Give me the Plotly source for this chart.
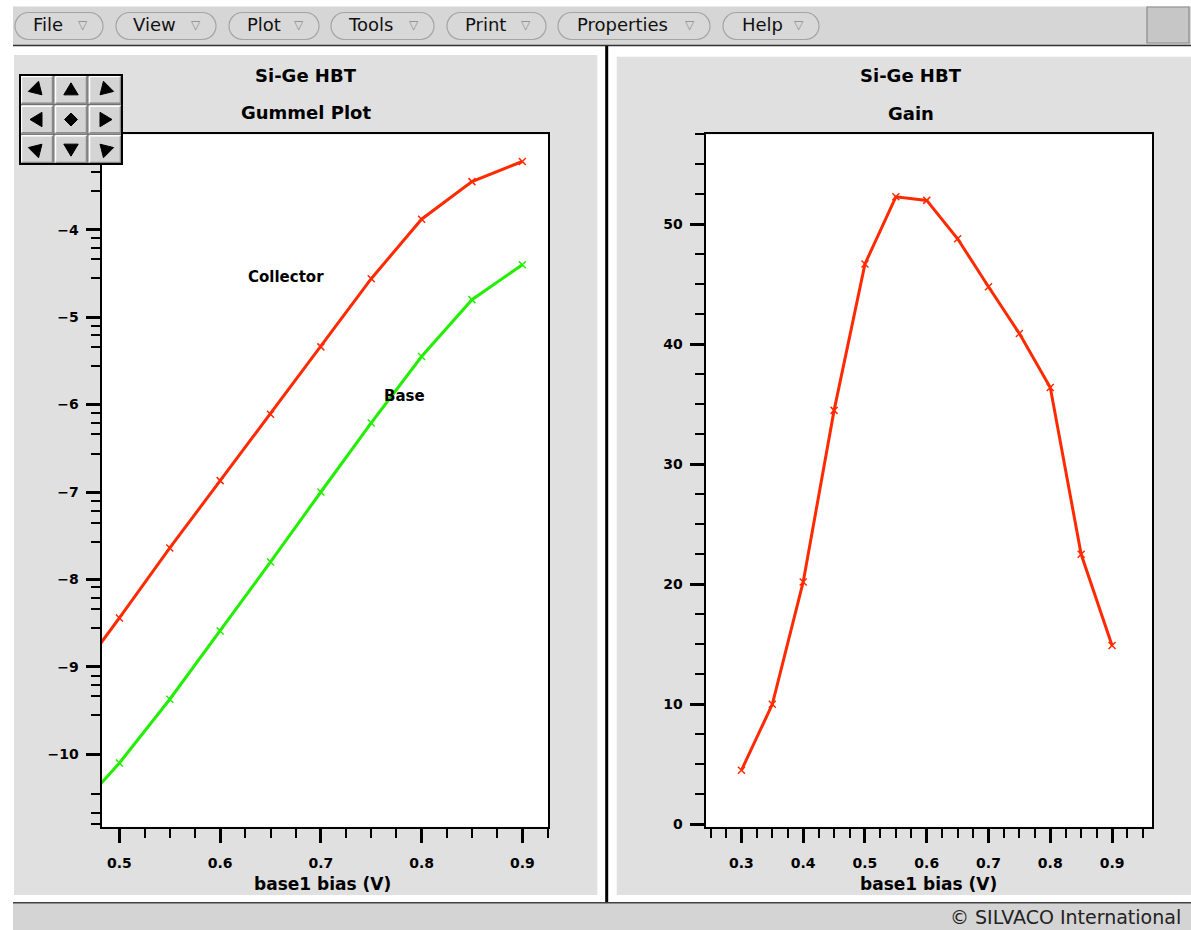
import plotly.graph_objects as go

W, H = 1191, 930

# ---------------- data ----------------
bias_gummel = [0.45, 0.50, 0.55, 0.60, 0.65, 0.70, 0.75, 0.80, 0.85, 0.90]
log_collector = [-9.22, -8.44, -7.64, -6.87, -6.11, -5.34, -4.56, -3.88, -3.45, -3.22]
log_base = [-10.74, -10.10, -9.37, -8.59, -7.80, -7.00, -6.21, -5.45, -4.80, -4.40]

bias_gain = [0.30, 0.35, 0.40, 0.45, 0.50, 0.55, 0.60, 0.65, 0.70, 0.75, 0.80, 0.85, 0.90]
gain = [4.5, 10.0, 20.2, 34.5, 46.7, 52.3, 52.0, 48.8, 44.8, 40.9, 36.4, 22.5, 14.9]

gummel_yticks = [-10, -9, -8, -7, -6, -5, -4]
gummel_yminor = [-3.1, -3.2, -3.34, -3.56,
                 -4.09, -4.21, -4.34, -4.55,
                 -5.1, -5.2, -5.34, -5.56,
                 -6.1, -6.21, -6.34, -6.56,
                 -7.1, -7.22, -7.35, -7.57,
                 -8.09, -8.21, -8.34, -8.56,
                 -9.1, -9.21, -9.33, -9.55,
                 -10.45, -10.67, -10.8]
gummel_xticks = [0.5, 0.6, 0.7, 0.8, 0.9]
gain_xticks = [0.3, 0.4, 0.5, 0.6, 0.7, 0.8, 0.9]
gain_yticks = [0, 10, 20, 30, 40, 50]

menu_items = ["File", "View", "Plot", "Tools", "Print", "Properties", "Help"]

RED = "#ff2a00"
GREEN = "#22ee00"


def X(p):
    return p / W


def Y(p):
    return 1 - p / H


shapes = []
annotations = []


def rect(x0, y0, x1, y1, fill, line_color=None, lw=0, layer="below"):
    shapes.append(dict(type="rect", xref="paper", yref="paper",
                       x0=X(x0), x1=X(x1), y0=Y(y1), y1=Y(y0),
                       fillcolor=fill, layer=layer,
                       line=dict(color=line_color or fill, width=lw)))


def hline(x0, x1, y, color, lw, layer="below"):
    shapes.append(dict(type="line", xref="paper", yref="paper",
                       x0=X(x0), x1=X(x1), y0=Y(y), y1=Y(y),
                       line=dict(color=color, width=lw), layer=layer))


def vline(x, y0, y1, color, lw, layer="below"):
    shapes.append(dict(type="line", xref="paper", yref="paper",
                       x0=X(x), x1=X(x), y0=Y(y0), y1=Y(y1),
                       line=dict(color=color, width=lw), layer=layer))


def path(points_cmds, fill, line_color, lw, layer="below"):
    shapes.append(dict(type="path", xref="paper", yref="paper", path=points_cmds,
                       fillcolor=fill, layer=layer,
                       line=dict(color=line_color, width=lw)))


def P(x, y):
    return f"{X(x):.5f},{Y(y):.5f}"


def pill(x0, x1, y0, y1):
    r = (y1 - y0) / 2
    yc = (y0 + y1) / 2
    k = 0.5523 * r
    d = (f"M {P(x0 + r, y0)} L {P(x1 - r, y0)} "
         f"C {P(x1 - r + k, y0)} {P(x1, yc - k)} {P(x1, yc)} "
         f"C {P(x1, yc + k)} {P(x1 - r + k, y1)} {P(x1 - r, y1)} "
         f"L {P(x0 + r, y1)} "
         f"C {P(x0 + r - k, y1)} {P(x0, yc + k)} {P(x0, yc)} "
         f"C {P(x0, yc - k)} {P(x0 + r - k, y0)} {P(x0 + r, y0)} Z")
    path(d, "#d8d8d8", "#a4a4a4", 1.2)


def text(x, y, s, size, color="black", bold=False, family="DejaVu Sans",
         xanchor="center", yanchor="middle", xref="paper", yref="paper"):
    if xref == "paper":
        xv, yv = X(x), Y(y)
    else:
        xv, yv = x, y
    annotations.append(dict(x=xv, y=yv, xref=xref, yref=yref, text=s, showarrow=False,
                            xanchor=xanchor, yanchor=yanchor,
                            font=dict(family=family, size=size, color=color,
                                      weight="bold" if bold else "normal")))


# ---------------- window chrome ----------------
# menu bar
rect(13, 6.5, W + 2, 45, "#d6d6d6")
hline(13, W, 45.5, "#303030", 1.5)
pill_x = [(15, 103), (116, 216), (229, 319), (331, 434), (447, 546), (558, 710), (723, 819)]
text_x = [30.6, 131, 245, 346, 463, 575, 740]
for (a, b), tx, label in zip(pill_x, text_x, menu_items):
    pill(a, b, 12.5, 39.5)
    text(tx, 24.5, label, 18, color="#111111", xanchor="left")
    text(b - 20, 25, "\u25bd", 12, color="#8a8a8a")
# little square at the right of the menu bar
rect(1147, 7, 1189, 43, "#c6c6c6", "#8a8a8a", 1.2)

# panels
rect(14, 55, 597.3, 895, "#e0e0e0")
rect(616.7, 56.7, W + 2, 895, "#e0e0e0")
vline(606.7, 46, 903, "#000000", 3)

# status bar
rect(13, 903, W + 2, H + 2, "#d4d4d4")
hline(13, W, 902.8, "#404040", 1.5)
text(948, 917, "\u00a9 SILVACO International", 19, color="#222222", xanchor="left")

# plot area backgrounds
L_X0, L_X1 = 101.5, 548.0
R_X0, R_X1 = 705.6, 1152.2
P_Y0, P_Y1 = 134.4, 826.7
rect(L_X0, P_Y0, L_X1, P_Y1, "white")
rect(R_X0, P_Y0, R_X1, P_Y1, "white")

# titles
text(305.5, 75, "Si-Ge HBT", 18, bold=True)
text(306, 113, "Gummel Plot", 18, bold=True)
text(911, 75, "Si-Ge HBT", 18, bold=True)
text(911, 113.5, "Gain", 18, bold=True)
text(322, 883.5, "base1 bias (V)", 17, bold=True)
text(928, 883.5, "base1 bias (V)", 17, bold=True)

# navigation widget (drawn above the plot)
cols = [20, 54, 88, 122]
rows = [75, 104.7, 134.3, 164]
dirs = [[(1, 1), (0, -1), (-1, 1)],
        [(-1, 0), None, (1, 0)],
        [(1, -1), (0, 1), (-1, -1)]]
for r in range(3):
    for c in range(3):
        x0, x1 = cols[c], cols[c + 1]
        y0, y1 = rows[r], rows[r + 1]
        rect(x0, y0, x1, y1, "#d4d4d4", "#6a6a6a", 1, layer="above")
        hline(x0 + 1.5, x1 - 1.5, y0 + 1.5, "#ffffff", 1.5, layer="above")
        vline(x0 + 1.5, y0 + 1.5, y1 - 1.5, "#ffffff", 1.5, layer="above")
        hline(x0 + 1.5, x1 - 1, y1 - 1.5, "#8a8a8a", 1.5, layer="above")
        vline(x1 - 1.5, y0 + 1.5, y1 - 1, "#8a8a8a", 1.5, layer="above")
        cx, cy = (x0 + x1) / 2, (y0 + y1) / 2
        d = dirs[r][c]
        if d is None:
            s = 6.5
            pth = f"M {P(cx, cy - s)} L {P(cx + s, cy)} L {P(cx, cy + s)} L {P(cx - s, cy)} Z"
        else:
            n = (d[0] ** 2 + d[1] ** 2) ** 0.5
            ux, uy = d[0] / n, d[1] / n
            px_, py_ = -uy, ux
            tip = (cx + 7 * ux, cy + 7 * uy)
            bx, by = cx - 5 * ux, cy - 5 * uy
            hw = 7.2
            pth = (f"M {P(*tip)} L {P(bx + hw * px_, by + hw * py_)} "
                   f"L {P(bx - hw * px_, by - hw * py_)} Z")
        path(pth, "#000000", "#000000", 1, layer="above")
rect(20, 75, 122, 164, "rgba(0,0,0,0)", "#000000", 2, layer="above")

# ---------------- traces ----------------
fig = go.Figure()
mk = dict(symbol="x-thin", size=7)
fig.add_trace(go.Scatter(x=bias_gummel, y=log_collector, mode="lines+markers",
                         line=dict(color=RED, width=3),
                         marker=dict(color=RED, line=dict(color=RED, width=1.5), **mk),
                         xaxis="x", yaxis="y", name="Collector"))
fig.add_trace(go.Scatter(x=bias_gummel, y=log_base, mode="lines+markers",
                         line=dict(color=GREEN, width=3),
                         marker=dict(color=GREEN, line=dict(color=GREEN, width=1.5), **mk),
                         xaxis="x", yaxis="y", name="Base"))
fig.add_trace(go.Scatter(x=bias_gain, y=gain, mode="lines+markers",
                         line=dict(color=RED, width=3),
                         marker=dict(color=RED, line=dict(color=RED, width=1.5), **mk),
                         xaxis="x2", yaxis="y2", name="Gain"))

# curve labels in data coordinates
text(0.665, -4.54, "Collector", 15, bold=True, xref="x", yref="y")
text(0.783, -5.90, "Base", 15, bold=True, xref="x", yref="y")

tickfont = dict(family="DejaVu Sans", size=14, color="black", weight="bold")
common = dict(showgrid=False, zeroline=False, showline=True, linecolor="black",
              linewidth=2, mirror=True, ticks="outside", ticklen=14, tickwidth=2.5,
              tickcolor="black", tickfont=tickfont, automargin=False)

fig.update_layout(
    width=W, height=H, margin=dict(l=0, r=0, t=0, b=0, pad=0, autoexpand=False),
    paper_bgcolor="white", plot_bgcolor="white", showlegend=False,
    shapes=shapes, annotations=annotations, hovermode=False,
    xaxis=dict(domain=[X(L_X0), X(L_X1)], range=[0.4822, 0.9255], anchor="y",
               tickmode="array", tickvals=gummel_xticks, ticklabelstandoff=8,
               minor=dict(ticks="outside", ticklen=9, tickwidth=1.5, tickcolor="black",
                          tickmode="linear", tick0=0.5, dtick=0.025, showgrid=False),
               **common),
    yaxis=dict(domain=[Y(P_Y1), Y(P_Y0)], range=[-10.828, -2.91], anchor="x",
               tickmode="array", tickvals=gummel_yticks, ticklabelstandoff=4,
               minor=dict(ticks="outside", ticklen=9, tickwidth=1.5, tickcolor="black",
                          tickmode="array", tickvals=gummel_yminor, showgrid=False),
               **common),
    xaxis2=dict(domain=[X(R_X0), X(R_X1)], range=[0.242, 0.965], anchor="y2",
                tickmode="array", tickvals=gain_xticks, ticklabelstandoff=8,
                minor=dict(ticks="outside", ticklen=9, tickwidth=1.5, tickcolor="black",
                           tickmode="linear", tick0=0.3, dtick=0.025, showgrid=False),
                **common),
    yaxis2=dict(domain=[Y(P_Y1), Y(P_Y0)], range=[-0.2, 57.5], anchor="x2",
                tickmode="array", tickvals=gain_yticks, ticklabelstandoff=4,
                minor=dict(ticks="outside", ticklen=9, tickwidth=1.5, tickcolor="black",
                           tickmode="linear", tick0=0, dtick=2.5, showgrid=False),
                **common),
)

fig.write_html(
    "out.html", config={"displayModeBar": False},
    post_script=(
        "document.documentElement.style.margin='0';"
        "document.body.style.margin='0';"
        "document.body.style.overflow='hidden';"
    ),
)
